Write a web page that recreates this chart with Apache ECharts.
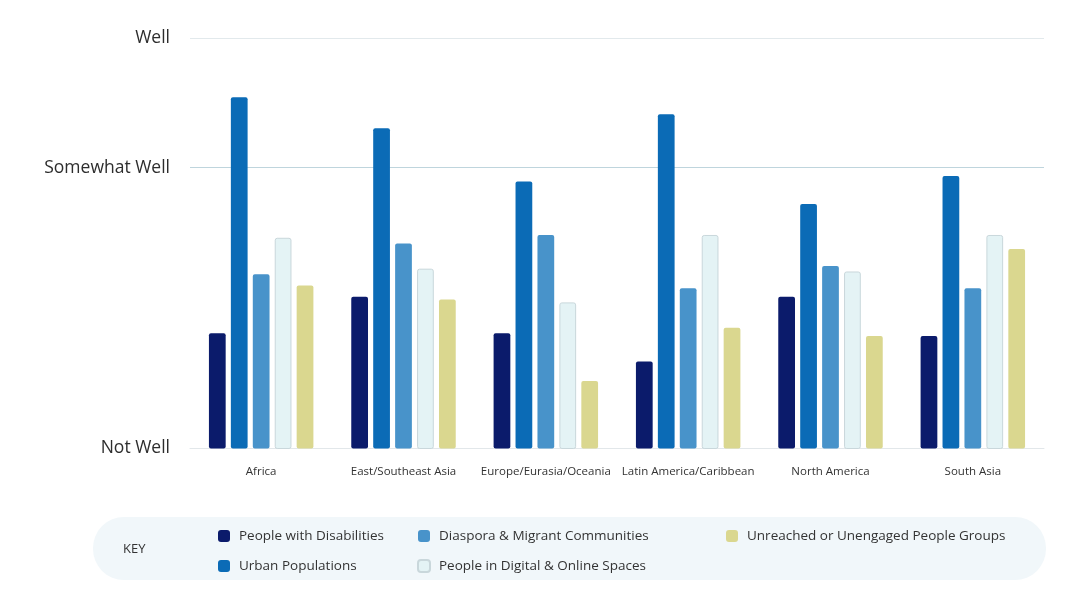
<!DOCTYPE html>
<html>
<head>
<meta charset="utf-8">
<script src="https://cdn.jsdelivr.net/npm/echarts@6/dist/echarts.min.js"></script>
<style>
html,body{margin:0;padding:0;background:#fff;}
#chart{width:1080px;height:600px;}
</style>
</head>
<body>
<div id="chart"></div>
<script>
const categories = ['Africa', 'East/Southeast Asia', 'Europe/Eurasia/Oceania', 'Latin America/Caribbean', 'North America', 'South Asia'];
const levelValues = [1, 2, 2.46];
const levelLabels = ['Not Well', 'Somewhat Well', 'Well'];

const disabilities = [1.41, 1.54, 1.41, 1.31, 1.54, 1.40];
const urban = [2.25, 2.14, 1.95, 2.19, 1.87, 1.97];
const diaspora = [1.62, 1.73, 1.76, 1.57, 1.65, 1.57];
const digital = [1.75, 1.64, 1.52, 1.76, 1.63, 1.76];
const unreached = [1.58, 1.53, 1.24, 1.43, 1.40, 1.71];

const seriesNames = ['People with Disabilities', 'Urban Populations', 'Diaspora & Migrant Communities', 'People in Digital & Online Spaces', 'Unreached or Unengaged People Groups'];
const seriesData = [disabilities, urban, diaspora, digital, unreached];
const colors = ['#0b1b6b', '#0b6bb6', '#4893ca', '#e4f3f5', '#dad78f'];
const borders = ['#0b1b6b', '#0b6bb6', '#4893ca', '#c9d7db', '#cfcb84'];

const FONT = 'Open Sans';
const chart = echarts.init(document.getElementById('chart'), null, {renderer: 'canvas'});

const series = seriesNames.map((name, i) => ({
  name: name,
  type: 'bar',
  data: seriesData[i],
  barGap: '31%',
  barCategoryGap: '26.6%',
  itemStyle: {color: colors[i], borderColor: borders[i], borderWidth: i === 3 ? 1 : 0, borderRadius: [2, 2, 2, 2]},
  emphasis: {disabled: true}
}));

const legendBase = {
  orient: 'vertical',
  top: 524,
  itemGap: 16,
  itemWidth: 12,
  itemHeight: 12,
  icon: 'roundRect',
  textStyle: {fontFamily: FONT, fontSize: 13.5, color: '#333', padding: [0, 0, 0, 4]},
  selectedMode: false
};

chart.setOption({
  backgroundColor: '#ffffff',
  animation: false,
  color: colors,
  textStyle: {fontFamily: FONT},
  graphic: [
    {type: 'rect', left: 93, top: 517, shape: {width: 953, height: 63, r: 31}, style: {fill: '#f1f7fa'}, z: -10},
    {type: 'text', left: 123, top: 543, style: {text: 'KEY', fontFamily: FONT, fontSize: 13, fill: '#333'}}
  ],
  legend: [
    Object.assign({}, legendBase, {left: 213, data: [seriesNames[0], seriesNames[1]]}),
    Object.assign({}, legendBase, {left: 412, data: [seriesNames[2], seriesNames[3]]}),
    Object.assign({}, legendBase, {left: 721, data: [seriesNames[4]]})
  ],
  grid: {left: 190, right: 36, top: 38.3, bottom: 151.5, containLabel: false},
  xAxis: {
    type: 'category',
    data: categories,
    axisLine: {show: true, lineStyle: {color: '#e2e7ea', width: 1}},
    axisTick: {show: false},
    axisLabel: {interval: 0, fontFamily: FONT, fontSize: 11.5, color: '#333', margin: 17}
  },
  yAxis: {
    type: 'value',
    min: 1,
    max: 2.46,
    axisLine: {show: false},
    axisTick: {show: false, customValues: levelValues},
    axisLabel: {
      customValues: levelValues,
      fontFamily: FONT, fontSize: 17.5, color: '#2d2d2d', margin: 20,
      formatter: function (v) {
        const idx = levelValues.findIndex(x => Math.abs(x - v) < 1e-6);
        return idx >= 0 ? levelLabels[idx] : '';
      }
    },
    splitLine: {show: true, lineStyle: {color: ['#e2e7ea', '#bfd5dd', '#e2e9ec'], width: 1}}
  },
  series: series
});
</script>
</body>
</html>
